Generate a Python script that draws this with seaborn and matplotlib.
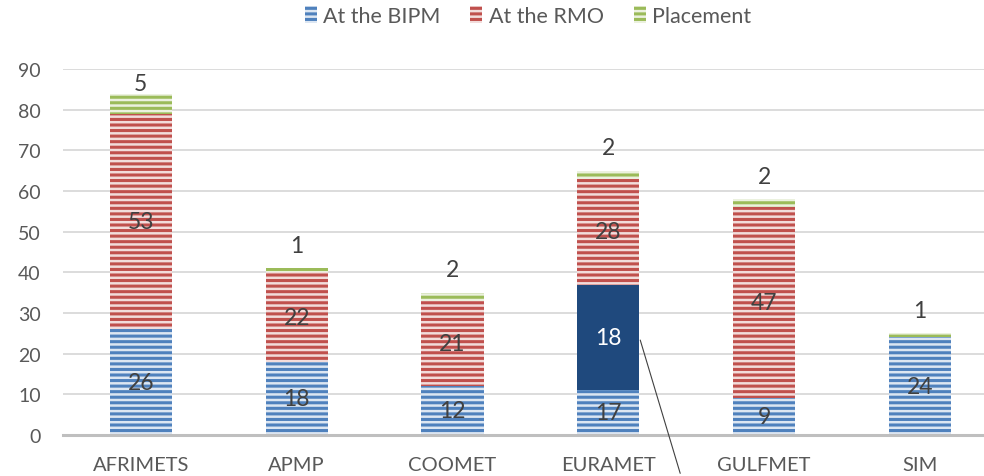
import pandas as pd
import matplotlib.pyplot as plt
import seaborn as sns
from matplotlib.patches import Patch

# Data
regions = ["AFRIMETS", "APMP", "COOMET", "EURAMET", "GULFMET", "SIM"]
bipm = [26, 18, 12, 11, 9, 24]          # drawn heights (blue)
highlight = [0, 0, 0, 26, 0, 0]         # dark overlay block on EURAMET
rmo = [53, 22, 21, 26, 47, 0]
placement = [5, 1, 2, 2, 2, 1]

bipm_labels = ["26", "18", "12", "17", "9", "24"]
highlight_labels = ["", "", "", "18", "", ""]
rmo_labels = ["53", "22", "21", "28", "47", ""]
placement_labels = ["5", "1", "2", "2", "2", "1"]

df = pd.DataFrame({"Region": regions, "bipm": bipm, "hl": highlight,
                   "rmo": rmo, "placement": placement})
df["b_hl"] = df["bipm"]
df["b_rmo"] = df["bipm"] + df["hl"]
df["b_pl"] = df["b_rmo"] + df["rmo"]

sns.set_theme(style="white")
plt.rcParams["font.family"] = ["Lato", "DejaVu Sans"]
plt.rcParams["hatch.linewidth"] = 2.2

text_col = "#595959"
label_col = "#404040"
blue, red, green, navy = "#4f81bd", "#c0504d", "#9bbb59", "#1f497d"

fig = plt.figure(figsize=(9.84, 4.77), dpi=100)
ax = fig.add_axes([0.064, 0.086, 0.95, 0.767])

layers = [
    ("bipm", None, blue, "#dce6f2", "At the BIPM", "---"),
    ("hl", "b_hl", navy, navy, None, None),
    ("rmo", "b_rmo", red, "#f2dcdb", "At the RMO", "---"),
    ("placement", "b_pl", green, "#ebf1de", "Placement", "---"),
]

containers = []
for col, bot, dark, light, lab, hatch in layers:
    bottom = df[bot] if bot else 0
    n_before = len(ax.containers)
    sns.barplot(data=df, x="Region", y=col, bottom=bottom, color=light,
                width=0.4, ax=ax, saturation=1, linewidth=0)
    cont = ax.containers[n_before]
    for p in cont:
        p.set_facecolor(light)
        p.set_edgecolor(dark)
        p.set_linewidth(0)
        if hatch:
            p.set_hatch(hatch)
    containers.append(cont)

ax.set_ylim(0, 90)
ax.set_xlim(-0.5, 5.5)
ax.set_yticks(range(0, 91, 10))
ax.yaxis.grid(True, color="#d9d9d9", linewidth=1.3)
ax.set_axisbelow(True)
for s in ["top", "right", "left"]:
    ax.spines[s].set_visible(False)
ax.spines["bottom"].set_color("#bfbfbf")
ax.spines["bottom"].set_linewidth(2.2)
ax.tick_params(axis="y", length=0, labelsize=14, labelcolor=text_col, pad=16)
ax.tick_params(axis="x", length=0, labelsize=14.5, labelcolor=text_col, pad=15)
ax.set_xlabel("")
ax.set_ylabel("")

# Value labels
ax.bar_label(containers[0], labels=bipm_labels, label_type="center",
             fontsize=16.5, color=label_col)
ax.bar_label(containers[1], labels=highlight_labels, label_type="center",
             fontsize=16.5, color="white")
ax.bar_label(containers[2], labels=rmo_labels, label_type="center",
             fontsize=16.5, color=label_col)
top_anns = ax.bar_label(containers[3], labels=placement_labels, label_type="edge",
                        padding=9, fontsize=16.5, color=label_col)
top_anns[0].xyann = (0, 0)   # AFRIMETS label sits right on the bar

# Callout line from the EURAMET block
ax.annotate("", xy=(3.2, 24), xycoords="data", xytext=(681 / 984, 0.0),
            textcoords="figure fraction",
            arrowprops=dict(arrowstyle="-", color="#404040", lw=0.8))

# Legend
handles = [Patch(facecolor=l, edgecolor=d, hatch="---", linewidth=0)
           for _, _, d, l, lab, h in layers if lab]
names = [lab for *_, lab, h in layers if lab]
leg = fig.legend(handles, names, loc="center", bbox_to_anchor=(528 / 984, 1 - 17 / 477),
                 ncol=3, frameon=False, fontsize=15.5, handlelength=0.55,
                 handleheight=0.8, handletextpad=0.3, columnspacing=1.4)
for t in leg.get_texts():
    t.set_color(text_col)

fig.savefig("out.png", dpi=100)
